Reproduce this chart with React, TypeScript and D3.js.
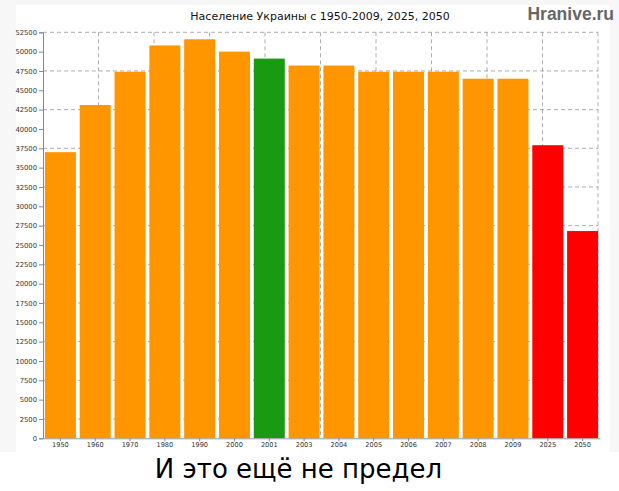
import React, { useEffect, useRef } from 'react';
import * as d3 from 'd3';

// Years shown on the x axis
const years = ['1950', '1960', '1970', '1980', '1990', '2000', '2001', '2003', '2004', '2005', '2006', '2007', '2008', '2009', '2025', '2050'];

// Population in thousands
const population = [37000, 43100, 47400, 50800, 51600, 50000, 49100, 48200, 48200, 47400, 47400, 47400, 46500, 46500, 37900, 26800];

// Bar kind: history, census year, forecast
const kinds = ['h', 'h', 'h', 'h', 'h', 'h', 'c', 'h', 'h', 'h', 'h', 'h', 'h', 'h', 'f', 'f'];

const yTicks = d3.range(0, 52501, 2500);
const yGrid = d3.range(2500, 52501, 5000);

const title = 'Население Украины с 1950-2009, 2025, 2050';
const caption = 'И это ещё не предел';
const watermark = 'Hranive.ru';

const colors: Record<string, string> = { h: '#ff9600', c: '#1a9a12', f: '#ff0000' };

const App: React.FC = () => {
  const svgRef = useRef<SVGSVGElement>(null);
  const width = 619;
  const height = 491;

  useEffect(() => {
    if (!svgRef.current) return;
    const svg = d3.select(svgRef.current);
    svg.selectAll('*').remove();

    const left = 43;
    const right = 598;
    const top = 32.3;
    const bottom = 438.3;

    // background panels
    svg.append('rect').attr('x', 0).attr('y', 0).attr('width', width).attr('height', 452).attr('fill', '#f7f7f7');
    svg.append('rect').attr('x', 16).attr('y', 5).attr('width', 594).attr('height', 447).attr('fill', '#fff');

    const x = d3.scaleBand<string>()
      .domain(years)
      .range([left, right + 2])
      .paddingInner(0.11)
      .paddingOuter(0.055);

    const y = d3.scaleLinear().domain([0, 52500]).range([bottom, top]);

    const gridX = d3.scaleLinear().domain([0, 10]).range([left, right]);

    // grid
    svg.append('g')
      .selectAll('line')
      .data(yGrid)
      .enter()
      .append('line')
      .attr('x1', left)
      .attr('x2', right)
      .attr('y1', d => y(d))
      .attr('y2', d => y(d))
      .attr('stroke', '#999')
      .attr('stroke-width', 0.8)
      .attr('stroke-dasharray', '4,3');

    svg.append('g')
      .selectAll('line')
      .data(d3.range(1, 11))
      .enter()
      .append('line')
      .attr('x1', d => gridX(d))
      .attr('x2', d => gridX(d))
      .attr('y1', top)
      .attr('y2', bottom)
      .attr('stroke', '#999')
      .attr('stroke-width', 0.8)
      .attr('stroke-dasharray', '4,3');

    // bars
    svg.append('g')
      .selectAll('rect')
      .data(years)
      .enter()
      .append('rect')
      .attr('x', d => x(d) as number)
      .attr('y', (d, i) => y(population[i]))
      .attr('width', x.bandwidth())
      .attr('height', (d, i) => bottom - y(population[i]))
      .attr('fill', (d, i) => colors[kinds[i]]);

    // y axis
    const yAxis = svg.append('g')
      .attr('transform', `translate(${left},0)`)
      .call(d3.axisLeft(y).tickValues(yTicks).tickSize(4).tickPadding(2).tickFormat(d => String(d)));
    yAxis.select('.domain').attr('stroke', '#888');
    yAxis.selectAll('line').attr('stroke', '#888');
    yAxis.selectAll('text')
      .style('font-family', 'DejaVu Sans')
      .style('font-size', '6.8px')
      .attr('fill', '#333');

    // x axis
    const xAxis = svg.append('g')
      .attr('transform', `translate(0,${bottom})`)
      .call(d3.axisBottom(x).tickSize(3).tickPadding(1).tickSizeOuter(0));
    xAxis.select('.domain').attr('stroke', '#999');
    xAxis.selectAll('line').attr('stroke', '#888');
    xAxis.selectAll('text')
      .style('font-family', 'DejaVu Sans')
      .style('font-size', '6.6px')
      .attr('fill', '#333');

    // texts
    svg.append('text')
      .attr('x', 320)
      .attr('y', 20)
      .attr('text-anchor', 'middle')
      .style('font-family', 'DejaVu Sans')
      .style('font-size', '11px')
      .attr('fill', '#111')
      .text(title);

    svg.append('text')
      .attr('x', 614)
      .attr('y', 20)
      .attr('text-anchor', 'end')
      .style('font-family', 'Liberation Sans')
      .style('font-weight', 'bold')
      .style('font-size', '17.5px')
      .attr('fill', '#666')
      .text(watermark);

    svg.append('text')
      .attr('x', 298.5)
      .attr('y', 478)
      .attr('text-anchor', 'middle')
      .style('font-family', 'DejaVu Sans')
      .style('font-size', '26px')
      .attr('fill', '#000')
      .text(caption);
  }, []);

  return (
    <svg
      ref={svgRef}
      width={width}
      height={height}
      style={{ position: 'absolute', left: 0, top: 0, display: 'block', background: '#fff' }}
    />
  );
};

export default App;
